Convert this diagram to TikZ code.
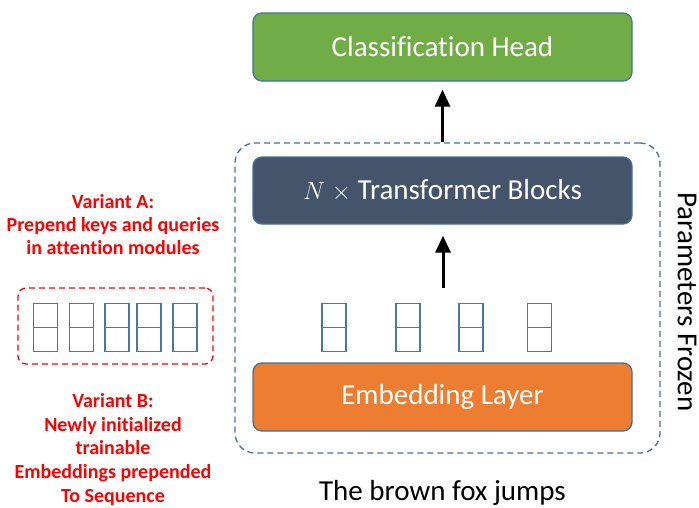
\documentclass[tikz,border=0pt]{standalone}
\usepackage{fontspec}
\setmainfont[Ligatures=NoCommon]{Carlito}
\usetikzlibrary{arrows.meta}
\definecolor{headgreen}{HTML}{70AD47}
\definecolor{blockdark}{HTML}{44546A}
\definecolor{embedorange}{HTML}{ED7D31}
\definecolor{edgeblue}{HTML}{41719C}
\definecolor{tokblue}{HTML}{4A76A8}
\definecolor{redtext}{HTML}{FF0000}
\tikzset{
  layerbox/.style={draw=edgeblue, line width=1.3pt, rounded corners=9pt, minimum width=379pt, minimum height=68pt, text=white, font=\fontsize{29}{34}\selectfont, inner sep=0pt},
  token/.style={draw=tokblue, line width=1.5pt, minimum width=24pt, minimum height=48pt, inner sep=0pt,
    path picture={\draw[tokblue, line width=1.5pt] (path picture bounding box.west) -- (path picture bounding box.east);}},
  flowarrow/.style={-{Triangle[width=15pt,length=17pt]}, line width=3pt, black},
  redlabel/.style={text=redtext, font=\bfseries\fontsize{20}{23}\selectfont, align=center, inner sep=0pt},
}
\begin{document}
\begin{tikzpicture}[x=1pt, y=-1pt]
\useasboundingbox (0,0) rectangle (699,507);
% frozen region
\node[draw=edgeblue, dashed, dash pattern=on 6pt off 4pt, line width=1.3pt, rounded corners=20pt, minimum width=425pt, minimum height=310pt, inner sep=0pt] (frozen) at (447.5,298) {};
\node[rotate=-90, font=\fontsize{29}{34}\selectfont, inner sep=0pt] (frozenlabel) at (687,302) {Parameters Frozen};
% layers
\node[layerbox, fill=headgreen] (head) at (442.5,47) {Classification Head};
\node[layerbox, fill=blockdark, minimum height=67pt] (trans) at (442.5,190.5) {$N$ $\times$ Transformer Blocks};
\node[layerbox, fill=embedorange] (embed) at (442.5,397) {Embedding Layer};
% tokens
\node[token] (t1) at (334,327.5) {};
\node[token] (t2) at (408,327.5) {};
\node[token] (t3) at (471,327.5) {};
\node[token] (t4) at (539.5,327.5) {};
% arrows
\coordinate (a2tail) at (443,288);
\draw[flowarrow, shorten >=11pt] (a2tail) -- (trans.south -| a2tail);
\draw[flowarrow, shorten >=8pt] (frozen.north -| head.south) -- (head.south);
% input text
\node[font=\fontsize{29}{34}\selectfont, inner sep=0pt] (input) at (442.5,493) {The brown fox jumps};
% prefix variants
\node[draw=redtext, dashed, dash pattern=on 6pt off 4pt, line width=1.3pt, rounded corners=8pt, minimum width=195pt, minimum height=76pt, inner sep=0pt] (prefixbox) at (115.5,326) {};
\node[token] (p1) at (45.5,327.5) {};
\node[token] (p2) at (81.5,327.5) {};
\node[token] (p3) at (117,327.5) {};
\node[token] (p4) at (149,327.5) {};
\node[token] (p5) at (185,327.5) {};
\node[redlabel] (varA) at (113,224.5) {Variant A:\\Prepend keys and queries\\in attention modules};
\node[redlabel, font=\bfseries\fontsize{20}{23.7}\selectfont] (varB) at (113,449.5) {Variant B:\\Newly initialized\\trainable\\Embeddings prepended\\To Sequence};
\end{tikzpicture}
\end{document}
